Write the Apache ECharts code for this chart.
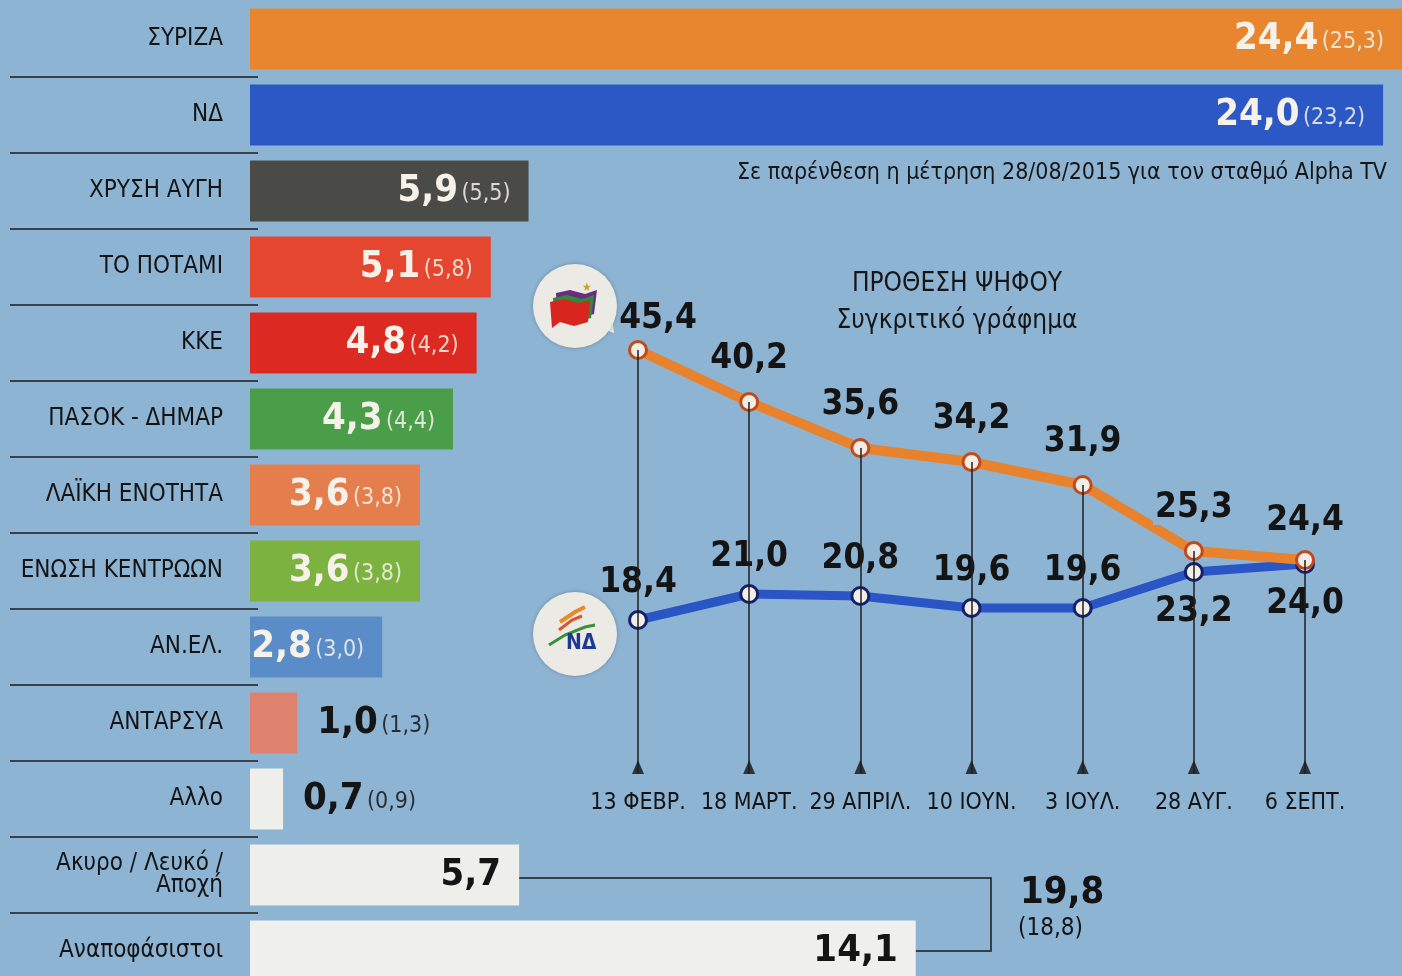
<!DOCTYPE html>
<html>
<head>
<meta charset="utf-8">
<script src="https://cdn.jsdelivr.net/npm/echarts@6/dist/echarts.min.js"></script>
<style>
  html, body { margin: 0; padding: 0; background: #8fb5d5; }
  #main { width: 1402px; height: 976px; }
</style>
</head>
<body>
<div id="main"></div>
<script>
// --- bar chart data (current poll, in brackets the 28/08 poll)
const partyNames = ["ΣΥΡΙΖΑ", "ΝΔ", "ΧΡΥΣΗ ΑΥΓΗ", "ΤΟ ΠΟΤΑΜΙ", "ΚΚΕ", "ΠΑΣΟΚ - ΔΗΜΑΡ", "ΛΑΪΚΗ ΕΝΟΤΗΤΑ",
  "ΕΝΩΣΗ ΚΕΝΤΡΩΩΝ", "ΑΝ.ΕΛ.", "ΑΝΤΑΡΣΥΑ", "Αλλο", "Ακυρο / Λευκό /\nΑποχή", "Αναποφάσιστοι"];
const voteShares = [24.4, 24.0, 5.9, 5.1, 4.8, 4.3, 3.6, 3.6, 2.8, 1.0, 0.7, 5.7, 14.1];
const previousShares = [25.3, 23.2, 5.5, 5.8, 4.2, 4.4, 3.8, 3.8, 3.0, 1.3, 0.9, null, null];
const barColors = ["#e8862f", "#2b58c4", "#4a4a47", "#e4462f", "#dc2a23", "#4a9e49", "#e47f4d",
  "#7cb23f", "#5a8dc8", "#df826d", "#eeeeea", "#eeeeeb", "#efefed"];
const groupTotal = 19.8;
const groupTotalPrev = 18.8;

// --- line chart data (vote intention comparison)
const pollDates = ["13 ΦΕΒΡ.", "18 ΜΑΡΤ.", "29 ΑΠΡΙΛ.", "10 ΙΟΥΝ.", "3 ΙΟΥΛ.", "28 ΑΥΓ.", "6 ΣΕΠΤ."];
const syrizaTrend = [45.4, 40.2, 35.6, 34.2, 31.9, 25.3, 24.4];
const ndTrend = [18.4, 21.0, 20.8, 19.6, 19.6, 23.2, 24.0];

const BG = "#8eb4d4";
const FONT = "'Liberation Sans Narrow', 'DejaVu Sans Condensed', sans-serif";
const fmt = (v) => v.toFixed(1).replace(".", ",");

const myChart = echarts.init(document.getElementById("main"));

const barData = voteShares.map((v, i) => {
  const light = i >= 10;
  const outside = v < 1.5;
  const txt = light || outside ? "#151515" : "#f6f2ea";
  return {
    value: v,
    itemStyle: { color: barColors[i] },
    label: {
      show: true,
      position: outside ? "right" : "insideRight",
      distance: outside ? 20 : 18,
      rich: {
        v: { fontFamily: FONT, fontSize: 38, fontWeight: "bold", color: txt },
        p: { fontFamily: FONT, fontSize: 23, color: txt, opacity: 0.85, padding: [6, 0, 0, 0] },
      },
    },
  };
});

let series = [
  {
    name: "bars",
    type: "bar",
    xAxisIndex: 0,
    yAxisIndex: 0,
    data: barData,
    barWidth: 61,
    label: {
      formatter: (p) => {
        const prev = previousShares[p.dataIndex];
        return prev == null ? `{v|${fmt(p.value)}}` : `{v|${fmt(p.value)}} {p|(${fmt(prev)})}`;
      },
    },
    silent: true,
  },
  {
    // only there so the separator axis has something to hold
    name: "sep",
    type: "bar",
    xAxisIndex: 1,
    yAxisIndex: 1,
    data: partyNames.map(() => 0),
    silent: true,
  },
  {
    name: "drops",
    type: "scatter",
    xAxisIndex: 2,
    yAxisIndex: 2,
    z: 1,
    symbol: "triangle",
    symbolSize: [12, 14],
    symbolOffset: [0, -7],
    itemStyle: { color: "#141414" },
    data: pollDates.map((_, i) => [i, 3]),
    markLine: {
      silent: true,
      symbol: "none",
      label: { show: false },
      lineStyle: { color: "#1e1e1e", width: 1.5, type: "solid" },
      data: syrizaTrend.map((v, i) => [{ coord: [i, v] }, { coord: [i, 3] }]),
    },
  },
  {
    name: "ΝΔ",
    type: "line",
    xAxisIndex: 2,
    yAxisIndex: 2,
    z: 3,
    data: ndTrend.map((v, i) => ({
      value: v,
      label: i >= 5 ? { position: "bottom", distance: 12, fontWeight: i === 6 ? 900 : "bold" } : {},
    })),
    symbol: "circle",
    symbolSize: 17,
    lineStyle: { color: "#2a55c4", width: 9 },
    itemStyle: { color: "#f2eee6", borderColor: "#15206a", borderWidth: 3 },
    label: {
      show: true,
      position: "top",
      distance: 10,
      formatter: (p) => fmt(p.value),
      fontFamily: FONT,
      fontSize: 35,
      fontWeight: "bold",
      color: "#141414",
      backgroundColor: BG,
      padding: [0, 2],
    },
  },
  {
    name: "ΣΥΡΙΖΑ",
    type: "line",
    xAxisIndex: 2,
    yAxisIndex: 2,
    z: 4,
    data: syrizaTrend.map((v, i) => ({
      value: v,
      label: i === 0 ? { offset: [20, 12] } : i === 6 ? { fontWeight: 900, distance: 12 } : {},
    })),
    symbol: "circle",
    symbolSize: 17,
    lineStyle: { color: "#e8822c", width: 10 },
    itemStyle: { color: "#f2eee6", borderColor: "#c24a1a", borderWidth: 3 },
    label: {
      show: true,
      position: "top",
      distance: 16,
      formatter: (p) => fmt(p.value),
      fontFamily: FONT,
      fontSize: 35,
      fontWeight: "bold",
      color: "#141414",
      backgroundColor: BG,
      padding: [0, 2],
    },
  },
];

let options = {
  backgroundColor: BG,
  animation: false,
  textStyle: { fontFamily: FONT },
  title: [
    {
      text: "ΠΡΟΘΕΣΗ ΨΗΦΟΥ",
      left: 952,
      top: 266,
      textAlign: "center",
      textStyle: { fontFamily: FONT, fontSize: 26, fontWeight: "normal", color: "#161616" },
    },
    {
      text: "Συγκριτικό γράφημα",
      left: 952,
      top: 303,
      textAlign: "center",
      textStyle: { fontFamily: FONT, fontSize: 26, fontWeight: "normal", color: "#161616" },
    },
    {
      text: "Σε παρένθεση η μέτρηση 28/08/2015 για τον σταθμό Alpha TV",
      right: 10,
      top: 157,
      textStyle: { fontFamily: FONT, fontSize: 23, fontWeight: "normal", color: "#161616" },
    },
  ],
  grid: [
    { left: 250, right: 0, top: 1, height: 988, outerBoundsMode: "none" },
    { left: 10, width: 248, top: 1, height: 988, outerBoundsMode: "none" },
    { left: 638, right: 97, top: 304, height: 470, outerBoundsMode: "none" },
  ],
  xAxis: [
    { gridIndex: 0, type: "value", min: 0, max: 24.4, show: false },
    { gridIndex: 1, type: "value", min: 0, max: 1, show: false },
    {
      gridIndex: 2,
      type: "category",
      data: pollDates,
      boundaryGap: false,
      axisLine: { show: false },
      axisTick: { show: false },
      axisLabel: { interval: 0, margin: 18, fontFamily: FONT, fontSize: 23, color: "#141414" },
      splitLine: { show: false },
    },
  ],
  yAxis: [
    {
      gridIndex: 0,
      type: "category",
      data: partyNames,
      inverse: true,
      axisLine: { show: false },
      axisTick: { show: false },
      splitLine: { show: false },
      axisLabel: {
        interval: 0,
        margin: 27,
        fontFamily: FONT,
        fontSize: 24,
        lineHeight: 22,
        color: "#141414",
        align: "right",
      },
    },
    {
      gridIndex: 1,
      type: "category",
      data: partyNames,
      inverse: true,
      axisLine: { show: false },
      axisTick: { show: false },
      axisLabel: { show: false },
      splitLine: { show: true, interval: (i) => i > 0, lineStyle: { color: "#1c1c1c", width: 1.5 } },
    },
    { gridIndex: 2, type: "value", min: 3, max: 50, show: false },
  ],
  series,
};

myChart.setOption(options);

// bracket tying the last two rows to their sum, plus the two party badges
const p57 = myChart.convertToPixel({ xAxisIndex: 0, yAxisIndex: 0 }, [voteShares[11], 11]);
const p141 = myChart.convertToPixel({ xAxisIndex: 0, yAxisIndex: 0 }, [voteShares[12], 12]);
const bx = 991;

const bubble = (cx, cy, tx, ty) => [
  {
    type: "polygon",
    shape: { points: [[cx + 20, cy + 20], [tx, ty], [cx + 36, cy + 2]] },
    style: { fill: "#eceae4" },
    z: 10,
  },
  {
    type: "circle",
    shape: { cx, cy, r: 42 },
    style: { fill: "#eceae4", shadowBlur: 4, shadowColor: "rgba(0,0,0,0.25)" },
    z: 10,
  },
];

myChart.setOption({
  graphic: [
    {
      type: "polyline",
      shape: { points: [[p57[0], p57[1] + 3], [bx, p57[1] + 3], [bx, p141[1]], [p141[0], p141[1]]] },
      style: { stroke: "#1a1a1a", lineWidth: 1.5, fill: null },
      z: 0,
    },
    {
      type: "text",
      x: 1020,
      y: 874,
      style: { text: fmt(groupTotal), font: `bold 38px ${FONT}`, fill: "#141414" },
    },
    {
      type: "text",
      x: 1018,
      y: 917,
      style: { text: `(${fmt(groupTotalPrev)})`, font: `24px ${FONT}`, fill: "#141414" },
    },
    ...bubble(575, 306, 614, 333),
    // SYRIZA flag
    {
      type: "polygon",
      shape: { points: [[556, 293], [570, 290], [585, 294], [597, 290], [594, 314], [580, 318], [566, 314], [557, 318]] },
      style: { fill: "#6a2c82" },
      z: 11,
    },
    {
      type: "polygon",
      shape: { points: [[553, 298], [567, 295], [582, 299], [594, 295], [591, 318], [577, 322], [563, 318], [554, 322]] },
      style: { fill: "#2f8a3a" },
      z: 11,
    },
    {
      type: "polygon",
      shape: { points: [[550, 302], [564, 299], [579, 303], [590, 300], [588, 322], [574, 326], [560, 322], [552, 328]] },
      style: { fill: "#d8261e" },
      z: 11,
    },
    {
      type: "text",
      x: 582,
      y: 282,
      style: { text: "★", font: `12px ${FONT}`, fill: "#c9a22a" },
      z: 11,
    },
    ...bubble(575, 634, 612, 620),
    // ND logo
    {
      type: "polyline",
      shape: { points: [[560, 622], [575, 612], [585, 607]] },
      style: { stroke: "#e98a2a", lineWidth: 4, fill: null },
      z: 11,
    },
    {
      type: "polyline",
      shape: { points: [[559, 630], [572, 620], [582, 616]] },
      style: { stroke: "#d9572a", lineWidth: 3, fill: null },
      z: 11,
    },
    {
      type: "polyline",
      shape: { points: [[549, 645], [565, 635], [585, 627], [595, 625]] },
      style: { stroke: "#3b8f3a", lineWidth: 3, fill: null },
      z: 11,
    },
    {
      type: "text",
      x: 566,
      y: 633,
      style: { text: "ΝΔ", font: `bold 21px ${FONT}`, fill: "#1d3a92" },
      z: 11,
    },
  ],
});

window.addEventListener("resize", () => myChart.resize());
</script>
</body>
</html>
